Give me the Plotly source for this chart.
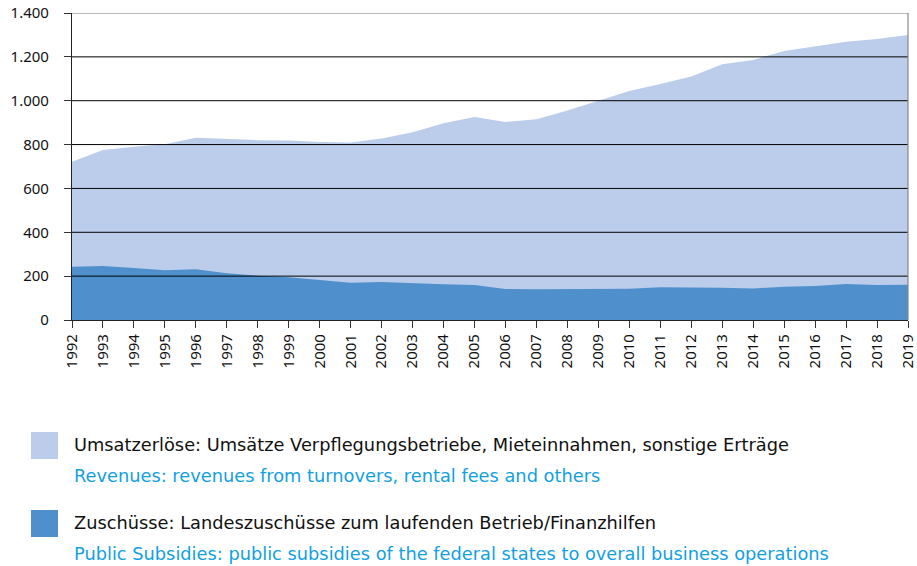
import plotly.graph_objects as go

years = list(range(1992, 2020))
revenues = [722, 775, 790, 802, 831, 825, 820, 819, 812, 810, 828, 856, 897, 926, 903, 916,
            955, 1000, 1044, 1076, 1110, 1166, 1186, 1227, 1249, 1269, 1281, 1300]
subsidies = [243, 246, 237, 227, 232, 213, 202, 195, 182, 170, 173, 167, 163, 160, 141, 140,
             141, 144, 143, 149, 149, 147, 144, 152, 155, 164, 160, 161]
y_ticks = [0, 200, 400, 600, 800, 1000, 1200, 1400]
y_tick_labels = ["0", "200", "400", "600", "800", "1.000", "1.200", "1.400"]

legend_de = ["Umsatzerlöse: Umsätze Verpflegungsbetriebe, Mieteinnahmen, sonstige Erträge",
             "Zuschüsse: Landeszuschüsse zum laufenden Betrieb/Finanzhilfen"]
legend_en = ["Revenues: revenues from turnovers, rental fees and others",
             "Public Subsidies: public subsidies of the federal states to overall business operations"]

light = "#bccdeb"
dark = "#4f90cc"
blue_text = "#12a0e4"

fig = go.Figure()
fig.add_trace(go.Scatter(x=years, y=revenues, mode="lines", line=dict(width=0, color=light),
                         fill="tozeroy", fillcolor=light, hoverinfo="x+y", showlegend=False))
fig.add_trace(go.Scatter(x=years, y=subsidies, mode="lines", line=dict(width=0, color=dark),
                         fill="tozeroy", fillcolor=dark, hoverinfo="x+y", showlegend=False))

W, H = 917, 566
ml, mr, mt, mb = 72, 9, 13, 246
pw, ph = W - ml - mr, H - mt - mb

shapes = []
for v in y_ticks[1:-1]:
    shapes.append(dict(type="line", xref="paper", yref="y", x0=0, x1=1, y0=v, y1=v,
                       line=dict(color="#000000", width=1), layer="above"))
# top and right border
shapes.append(dict(type="line", xref="paper", yref="y", x0=0, x1=1, y0=y_ticks[-1], y1=y_ticks[-1],
                   line=dict(color="#777777", width=1.2), layer="above"))
shapes.append(dict(type="line", xref="paper", yref="paper", x0=1, x1=1, y0=0, y1=1,
                   line=dict(color="#888888", width=1.2), layer="above"))

annotations = []
def px_x(px):
    return (px - ml) / pw
def px_y(py):
    return (H - mb - py) / ph

legend_rows = [(432, light), (510, dark)]
for i, (top, col) in enumerate(legend_rows):
    shapes.append(dict(type="rect", xref="paper", yref="paper",
                       x0=px_x(31), x1=px_x(58), y0=px_y(top + 27), y1=px_y(top),
                       fillcolor=col, line=dict(width=0)))
    annotations.append(dict(xref="paper", yref="paper", x=px_x(72), y=px_y(top + 12),
                            text=legend_de[i], showarrow=False, xanchor="left", yanchor="middle",
                            font=dict(family="DejaVu Sans", size=17.8, color="#111111")))
    annotations.append(dict(xref="paper", yref="paper", x=px_x(72), y=px_y(top + 43),
                            text=legend_en[i], showarrow=False, xanchor="left", yanchor="middle",
                            font=dict(family="DejaVu Sans", size=17.8, color=blue_text)))

fig.update_layout(
    width=W, height=H,
    margin=dict(l=ml, r=mr, t=mt, b=mb, pad=0),
    paper_bgcolor="white", plot_bgcolor="white",
    font=dict(family="Noto Sans", size=15, color="#111111"),
    shapes=shapes, annotations=annotations,
    xaxis=dict(range=[years[0], years[-1]], tickmode="array", tickvals=years,
               ticktext=[str(y) for y in years], tickangle=-90, ticks="outside",
               ticklen=7, tickcolor="#333333", showgrid=False, zeroline=False,
               showline=True, linecolor="#222222", linewidth=1.2, automargin=False,
               tickfont=dict(size=15, color="#111111"), layer="above traces"),
    yaxis=dict(range=[0, 1400], tickmode="array", tickvals=y_ticks, ticktext=y_tick_labels,
               ticks="outside", ticklen=7, tickcolor="#333333", showgrid=False,
               zeroline=False, showline=True, linecolor="#222222", linewidth=1.2,
               automargin=False, tickfont=dict(size=15, color="#111111"),
               ticklabelstandoff=12, layer="above traces"),
)

fig.write_html("out.html", config={"displayModeBar": False},
               post_script="document.body.style.margin='0';document.body.style.overflow='hidden';")
